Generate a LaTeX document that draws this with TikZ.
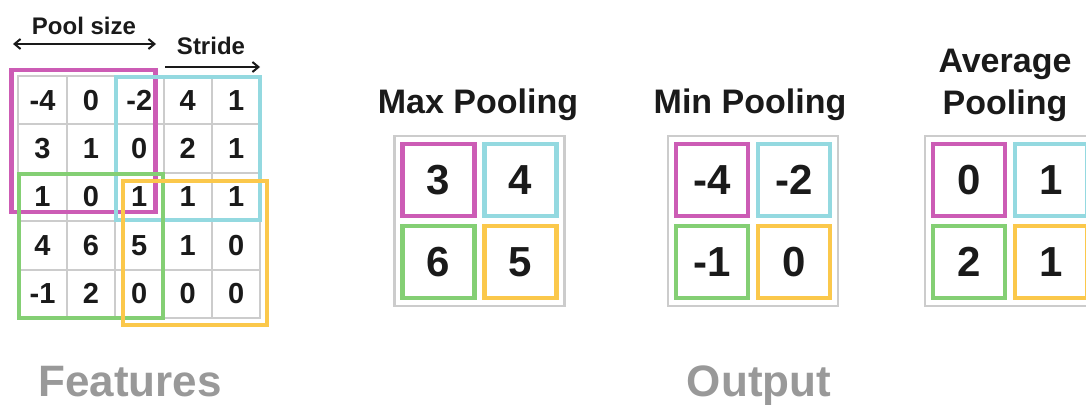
\documentclass[tikz,border=0pt]{standalone}
\usepackage{fontspec}
\setmainfont{Liberation Sans}
\usepackage{xcolor}
\usetikzlibrary{arrows.meta}
\definecolor{winpink}{HTML}{CC5CB5}
\definecolor{wincyan}{HTML}{94D9E0}
\definecolor{wingreen}{HTML}{84CF74}
\definecolor{winyellow}{HTML}{FBC84B}
\definecolor{gridgray}{HTML}{CCCCCC}
\definecolor{labgray}{HTML}{999999}
\definecolor{inkblack}{HTML}{1A1A1A}
\tikzset{
  cell/.style     = {draw=gridgray,line width=2pt,minimum size=48.4pt,inner sep=0pt,
                     text=inkblack,font=\fontsize{29}{29}\selectfont\bfseries},
  window/.style   = {line width=4.5pt},
  frame/.style    = {draw=gridgray,line width=2.5pt,minimum size=170pt,inner sep=0pt},
  outcell/.style  = {draw=#1,line width=4.5pt,minimum size=72pt,inner sep=0pt,
                     text=inkblack,font=\fontsize{42}{42}\selectfont\bfseries},
  title/.style    = {inner sep=0pt,align=center,text=inkblack,
                     font=\fontsize{34}{42}\selectfont\bfseries},
  smalltxt/.style = {inner sep=0pt,anchor=base,text=inkblack,
                     font=\fontsize{24}{24}\selectfont\bfseries},
  biglab/.style   = {inner sep=0pt,anchor=base,text=labgray,
                     font=\fontsize{44}{44}\selectfont\bfseries},
  dimarr/.style   = {line width=2pt,inkblack,
                     arrows={-Straight Barb[length=6pt,width=10pt]}}
}
% output grid: name, centre x, four values
\newcommand{\poolgrid}[6]{%
  \node[frame] (#1) at (#2,221) {};
  \node[outcell=winpink]   (#1-a) at (#2-41,180) {#3};
  \node[outcell=wincyan]   (#1-b) at (#2+41,180) {#4};
  \node[outcell=wingreen]  (#1-c) at (#2-41,262) {#5};
  \node[outcell=winyellow] (#1-d) at (#2+41,262) {#6};
}

\begin{document}
\begin{tikzpicture}[x=1pt,y=-1pt]
  \useasboundingbox (0,0) rectangle (1086,404);
  \clip (0,0) rectangle (1086,404);

  % input features
  \foreach \row [count=\r from 0] in {{-4,0,-2,4,1},{3,1,0,2,1},{1,0,1,1,1},{4,6,5,1,0},{-1,2,0,0,0}}
    \foreach \val [count=\c from 0] in \row
      \node[cell] (f-\r-\c) at ({18.3+48.4*(\c+0.5)},{76+48.4*(\r+0.5)}) {\val};

  \draw[window,winpink]   (11.7,70)  rectangle (155.3,212);
  \draw[window,wincyan]   (116,77)   rectangle (260,220);
  \draw[window,wingreen]  (19,174)   rectangle (163,318);
  \draw[window,winyellow] (123,181)  rectangle (267,325);

  \node[smalltxt] (poolsize) at (84,35) {Pool size};
  \node[smalltxt] (stride)   at (211,55) {Stride};
  \coordinate (pool-l) at (13,44);
  \coordinate (pool-r) at (156,44);
  \coordinate (stride-l) at (165,67);
  \coordinate (stride-r) at (260,67);
  \draw[dimarr,arrows={Straight Barb[length=6pt,width=10pt]-Straight Barb[length=6pt,width=10pt]}]
    (pool-l) -- (pool-r);
  \draw[dimarr] (stride-l) -- (stride-r);

  % outputs
  \poolgrid{max}{479.5}{3}{4}{6}{5}
  \poolgrid{min}{753}{-4}{-2}{-1}{0}
  \poolgrid{avg}{1010}{0}{1}{2}{1}

  \node[title,anchor=base] (max-title) at (478,113) {Max Pooling};
  \node[title,anchor=base] (min-title) at (750,113) {Min Pooling};
  \node[title,anchor=north] (avg-title) at (1005,49) {Average\\Pooling};

  \node[biglab] (features) at (130,396) {Features};
  \node[biglab] (output)   at (759,396) {Output};
\end{tikzpicture}
\end{document}
